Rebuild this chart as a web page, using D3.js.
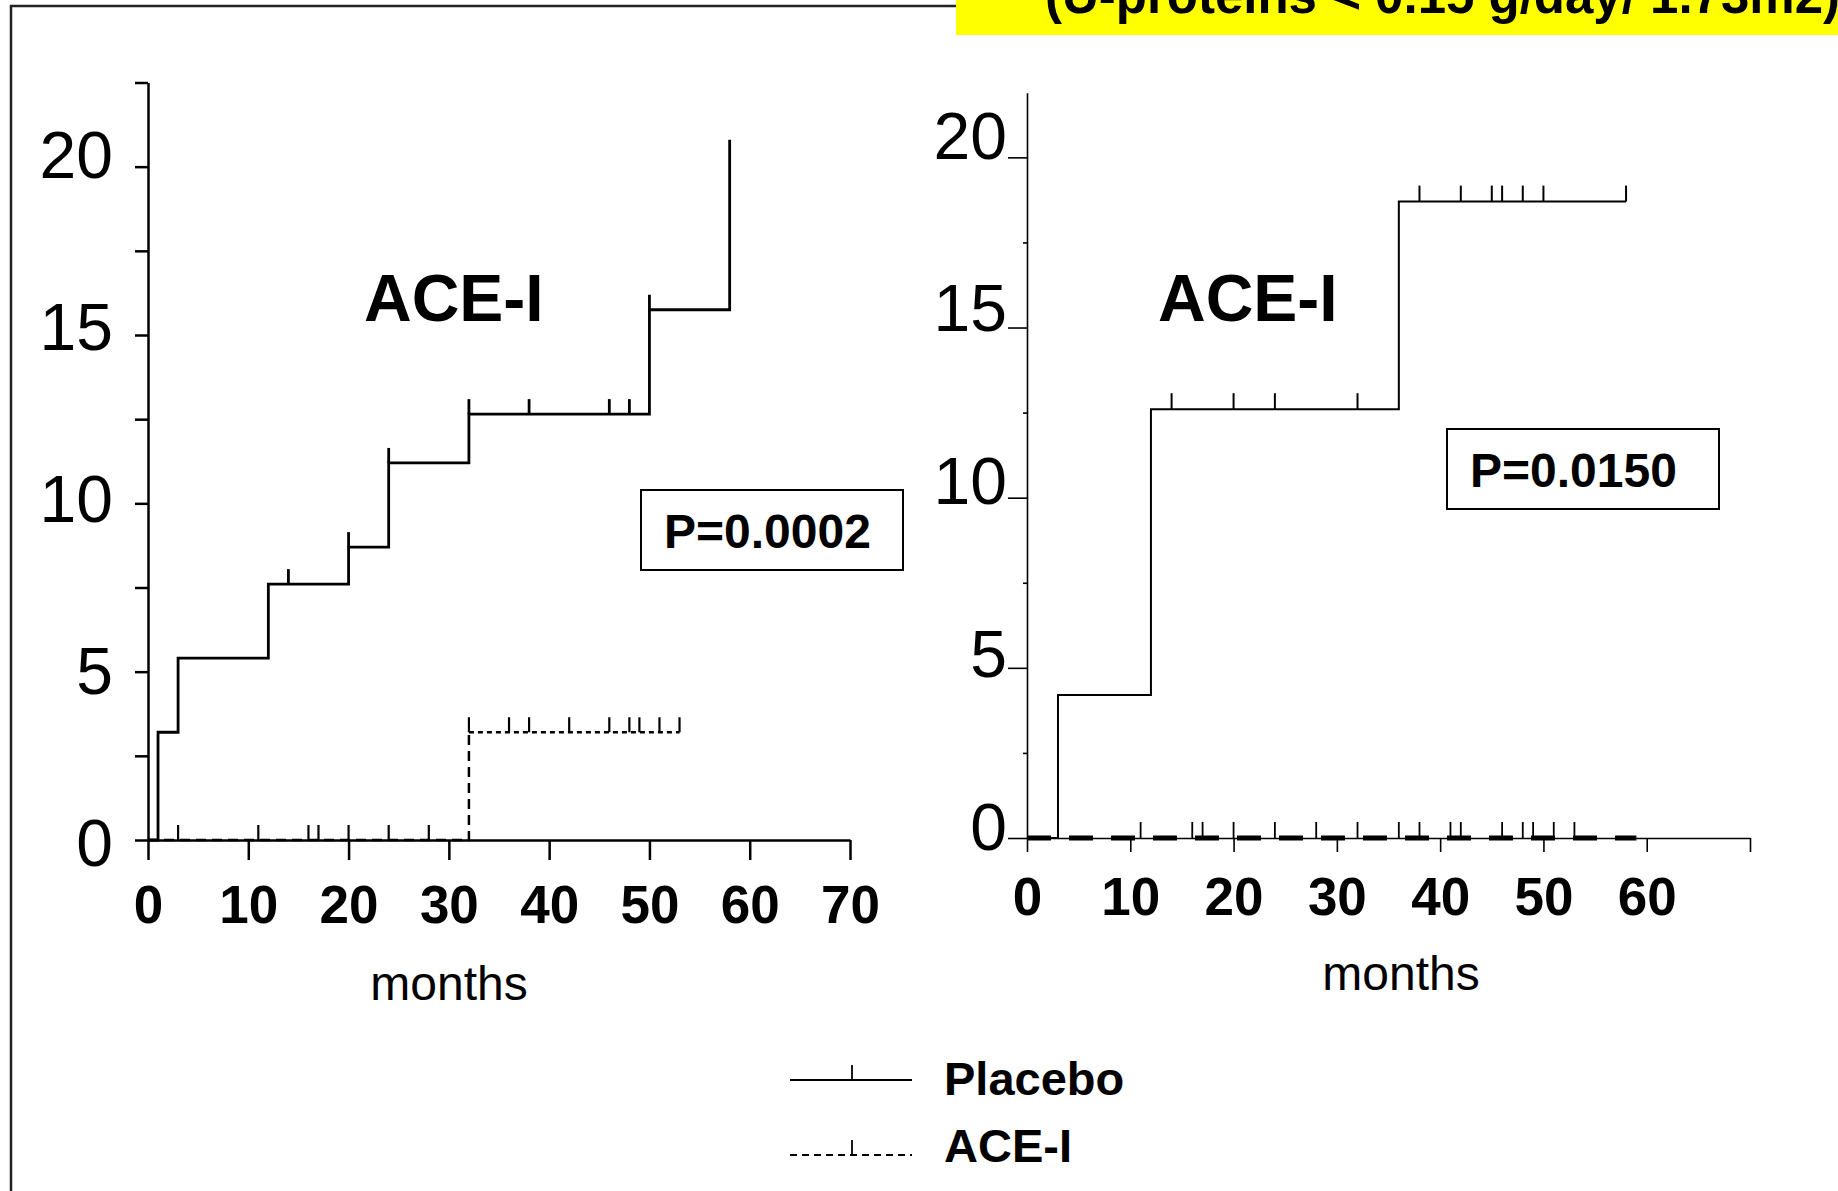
<!DOCTYPE html>
<html>
<head>
<meta charset="UTF-8" />
<title>ACE-I vs Placebo</title>
<script src="https://d3js.org/d3.v7.min.js"></script>
<style>
body {
	margin: 0;
	background: #fff;
}
svg {
	display: block;
	font-family: "Liberation Sans", Arial, sans-serif;
}
</style>
</head>
<body>
<div id="chart"></div>
<script>
// tick values
var monthTicks = [0, 10, 20, 30, 40, 50, 60, 70];
var yTicks = [0, 5, 10, 15, 20];
var yMinorTicks = [2.5, 7.5, 12.5, 17.5, 22.5];

// left panel (months, cumulative %)
var leftPlaceboTimes = [0, 1, 3, 12, 20, 24, 32, 50, 58];
var leftPlaceboValues = [0, 3.2, 5.4, 7.6, 8.7, 11.2, 12.65, 15.75, 20.8];
var leftPlaceboCensored = [14, 20, 24, 32, 38, 46, 48, 50];
var leftAceTimes = [0, 32, 53];
var leftAceValues = [0, 3.2, 3.2];
var leftAceCensored = [3, 11, 16, 17, 20, 24, 28, 32, 36, 38, 42, 46, 48, 49, 51, 53];

// right panel
var rightPlaceboTimes = [0, 3, 12, 36, 58];
var rightPlaceboValues = [0, 4.2, 12.6, 18.7, 18.7];
var rightPlaceboCensored = [14, 20, 24, 32, 38, 42, 45, 46, 48, 50, 58];
var rightAceTimes = [0, 59];
var rightAceValues = [0, 0];
var rightAceCensored = [11, 16, 17, 20, 24, 28, 32, 36, 38, 41, 42, 46, 48, 49, 51, 53];

var width = 1838, height = 1191;

var svg = d3.select('#chart')
    .append('svg')
    .attr('width', width)
    .attr('height', height);

svg.append('rect').attr('width', width).attr('height', height).attr('fill', '#fff');

// frame + yellow title strip
svg.append('path')
    .attr('d', 'M11,1191 L11,6 L956,6')
    .attr('fill', 'none')
    .attr('stroke', '#222')
    .attr('stroke-width', 2.5);

svg.append('rect')
    .attr('x', 956).attr('y', 0)
    .attr('width', width - 956).attr('height', 35)
    .attr('fill', '#ffff00');

svg.append('text')
    .attr('x', 1045).attr('y', 13)
    .attr('font-size', 51)
    .attr('font-weight', 'bold')
    .text('(U-proteins < 0.15 g/day/ 1.73m2)');

function valueAt(times, values, t) {
    var i = d3.bisectRight(times, t) - 1;
    return values[Math.max(i, 0)];
}

function pts(times, values) {
    return times.map(function(t, i) { return [t, values[i]]; });
}

function drawPanel(p) {
    var g = svg.append('g');
    var x = d3.scaleLinear().domain([0, 70]).range(p.xRange);
    var y = d3.scaleLinear().domain(p.yDomain).range(p.yRange);
    // tick labels in the original sit slightly off their ticks
    var yLab = d3.scaleLinear().domain([0, 20]).range(p.yLabelRange);

    var line = d3.line()
        .x(function(d) { return x(d[0]); })
        .y(function(d) { return y(d[1]); })
        .curve(d3.curveStepAfter);

    // y axis
    var yAxis = g.append('g')
        .attr('transform', 'translate(' + x(0) + ',0)')
        .call(d3.axisLeft(y).tickValues(yTicks).tickSize(p.yTickSize).tickSizeOuter(0)
            .tickPadding(p.yPad));
    yAxis.selectAll('path, line').attr('stroke', '#000').attr('stroke-width', p.axisW);
    yAxis.selectAll('text')
        .attr('font-size', 66)
        .attr('font-family', '"Liberation Sans", Arial, sans-serif')
        .attr('fill', '#000')
        .attr('y', function(d) { return yLab(d) - y(d); })
        .attr('dy', p.yLabelDy);

    var yMinor = g.append('g')
        .attr('transform', 'translate(' + x(0) + ',0)')
        .call(d3.axisLeft(y).tickValues(yMinorTicks.filter(function(v) { return v <= p.yDomain[1]; }))
            .tickSize(p.yMinorSize).tickSizeOuter(0).tickFormat(''));
    yMinor.select('.domain').remove();
    yMinor.selectAll('line').attr('stroke', '#000').attr('stroke-width', p.axisW);

    // x axis
    var xAxis = g.append('g')
        .attr('transform', 'translate(0,' + y(0) + ')')
        .call(d3.axisBottom(x).tickValues(monthTicks).tickSize(p.xTickSize).tickSizeOuter(0)
            .tickPadding(p.xPad)
            .tickFormat(function(d) { return d <= p.maxLabel ? d : ''; }));
    xAxis.selectAll('path, line').attr('stroke', '#000').attr('stroke-width', p.axisW);
    xAxis.selectAll('text')
        .attr('font-size', 53)
        .attr('font-weight', 'bold')
        .attr('font-family', '"Liberation Sans", Arial, sans-serif')
        .attr('fill', '#000');

    g.append('text')
        .attr('x', p.monthsX).attr('y', p.monthsY)
        .attr('text-anchor', 'middle')
        .attr('font-size', 48)
        .text('months');

    // ACE-I curve
    p.aceParts.forEach(function(part) {
        g.append('path')
            .attr('d', line(part.points))
            .attr('fill', 'none')
            .attr('stroke', '#000')
            .attr('stroke-width', p.aceW)
            .attr('stroke-dasharray', part.dash);
    });

    // Placebo curve
    g.append('path')
        .attr('d', line(pts(p.placeboTimes, p.placeboValues)))
        .attr('fill', 'none')
        .attr('stroke', '#000')
        .attr('stroke-width', p.lineW);

    // censor marks
    function censor(times, values, list, w) {
        g.selectAll(null)
            .data(list)
            .enter()
            .append('line')
            .attr('x1', function(t) { return x(t); })
            .attr('x2', function(t) { return x(t); })
            .attr('y1', function(t) { return y(valueAt(times, values, t)); })
            .attr('y2', function(t) { return y(valueAt(times, values, t)) - p.censorH; })
            .attr('stroke', '#000')
            .attr('stroke-width', w);
    }
    censor(p.placeboTimes, p.placeboValues, p.placeboCensored, p.lineW);
    censor(p.aceTimes, p.aceValues, p.aceCensored, p.tickW);

    // labels
    g.append('text')
        .attr('x', p.titleX).attr('y', 321)
        .attr('font-size', 66)
        .attr('font-weight', 'bold')
        .text('ACE-I');

    g.append('rect')
        .attr('x', p.box[0]).attr('y', p.box[1])
        .attr('width', p.box[2]).attr('height', p.box[3])
        .attr('fill', 'none')
        .attr('stroke', '#000')
        .attr('stroke-width', 2);

    g.append('text')
        .attr('x', p.box[0] + 23).attr('y', p.box[1] + 58)
        .attr('font-size', 48)
        .attr('font-weight', 'bold')
        .text(p.pText);
}

drawPanel({
    xRange: [148, 850], yDomain: [0, 22.5], yRange: [840, 82.5],
    yLabelRange: [842, 154],
    yTickSize: 13, yMinorSize: 13, yPad: 22, yLabelDy: '0.36em',
    xTickSize: 20, xPad: 25, maxLabel: 70, axisW: 2.5,
    monthsX: 449, monthsY: 1000,
    placeboTimes: leftPlaceboTimes, placeboValues: leftPlaceboValues, placeboCensored: leftPlaceboCensored,
    aceTimes: leftAceTimes, aceValues: leftAceValues, aceCensored: leftAceCensored,
    aceParts: [
        { points: pts(leftAceTimes.slice(0, 2), leftAceValues.slice(0, 2)), dash: '10,6' },
        { points: pts(leftAceTimes.slice(1), leftAceValues.slice(1)), dash: '5,4' }
    ],
    aceW: 2.5, lineW: 2.8, tickW: 2.2, censorH: 15,
    titleX: 364, box: [641, 490, 262, 80], pText: 'P=0.0002'
});

drawPanel({
    xRange: [1027, 1750], yDomain: [0, 21.9], yRange: [838, 92.7],
    yLabelRange: [849, 158],
    yTickSize: 19, yMinorSize: 4, yPad: 1, yLabelDy: '0em',
    xTickSize: 14, xPad: 25, maxLabel: 60, axisW: 1.6,
    monthsX: 1401, monthsY: 990,
    placeboTimes: rightPlaceboTimes, placeboValues: rightPlaceboValues, placeboCensored: rightPlaceboCensored,
    aceTimes: rightAceTimes, aceValues: rightAceValues, aceCensored: rightAceCensored,
    aceParts: [
        { points: pts(rightAceTimes, rightAceValues), dash: '24,18' }
    ],
    aceW: 5, lineW: 2, tickW: 1.8, censorH: 16,
    titleX: 1158, box: [1447, 429, 272, 80], pText: 'P=0.0150'
});

// legend
var legend = svg.append('g');
[
    { label: 'Placebo', y: 1080, dash: null, tx: 1095 },
    { label: 'ACE-I', y: 1155, dash: '7,5', tx: 1162 }
].forEach(function(d) {
    legend.append('line')
        .attr('x1', 790).attr('x2', 912)
        .attr('y1', d.y).attr('y2', d.y)
        .attr('stroke', '#000').attr('stroke-width', 2)
        .attr('stroke-dasharray', d.dash);
    legend.append('line')
        .attr('x1', 852).attr('x2', 852)
        .attr('y1', d.y).attr('y2', d.y - 15)
        .attr('stroke', '#000').attr('stroke-width', 1.8);
    legend.append('text')
        .attr('x', 944).attr('y', d.tx)
        .attr('font-size', 47)
        .attr('font-weight', 'bold')
        .text(d.label);
});
</script>
</body>
</html>
